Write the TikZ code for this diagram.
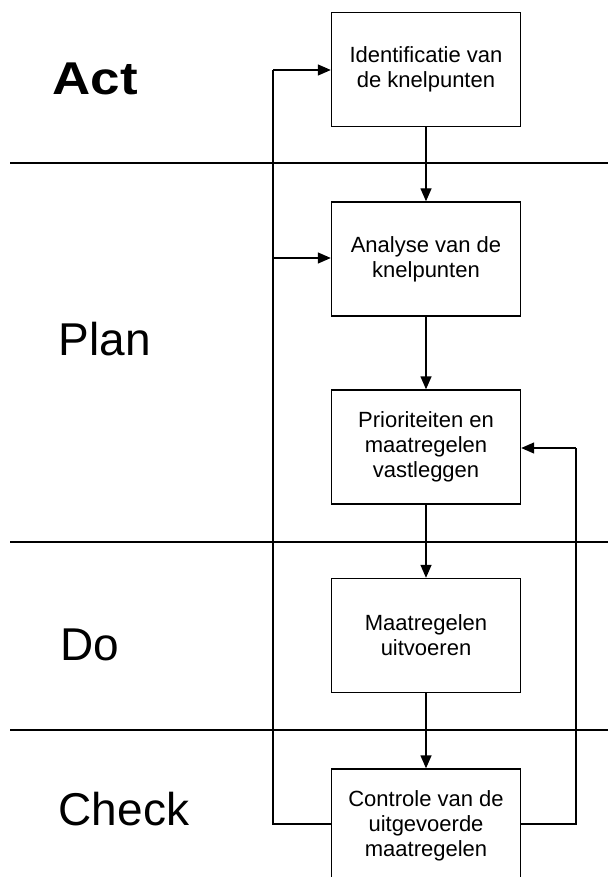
\documentclass[tikz,border=0pt]{standalone}
\usepackage{fontspec}
\setmainfont{Liberation Sans}
\usetikzlibrary{arrows.meta}
\begin{document}
\begin{tikzpicture}[x=1pt,y=-1pt,
  line width=1.4pt,
  stepbox/.style={draw, line width=1.4pt, minimum width=189pt, minimum height=114pt,
    inner sep=0pt, align=center, font=\fontsize{22}{25}\selectfont},
  phase/.style={anchor=base west, inner sep=0pt, font=\fontsize{46}{50}\selectfont},
  flow/.style={-{Triangle[length=13pt,width=11pt]}, line width=1.4pt}]
\useasboundingbox (0,0) rectangle (608,877);
\clip (0,0) rectangle (608,877);
\fill[white] (0,0) rectangle (608,877);

% phase separators
\draw (10,163) -- (608,163);
\draw (10,542) -- (608,542);
\draw (10,730) -- (608,730);

% phase labels
\node[phase] (act) at (52,95) {\textbf{\scalebox{1.15}[1]{Act}}};
\node[phase] (plan) at (58,355) {Plan};
\node[phase] (do) at (60,660) {Do};
\node[phase] (check) at (58,825) {Check};

% boxes
\node[stepbox] (b1) at (426,69.5) {Identificatie van\\de knelpunten};
\node[stepbox] (b2) at (426,259) {Analyse van de\\knelpunten};
\node[stepbox] (b3) at (426,447) {Prioriteiten en\\maatregelen\\vastleggen};
\node[stepbox] (b4) at (426,635.5) {Maatregelen\\uitvoeren};
\node[stepbox] (b5) at (426,826) {Controle van de\\uitgevoerde\\maatregelen};

% main flow
\draw[flow] (b1) -- (b2);
\draw[flow] (b2) -- (b3);
\draw[flow] (b3) -- (b4);
\draw[flow] (b4) -- (b5);

% feedback loops
\coordinate (lb) at (273,824);
\coordinate (lt) at (273,70);
\coordinate (lm) at (273,258);
\coordinate (rb) at (576,824);
\coordinate (rt) at (576,448);
\draw (b5.west |- lb) -- (lb) -- (lt);
\draw[flow] (lt) -- (b1.west |- lt);
\draw[flow] (lm) -- (b2.west |- lm);
\draw (b5.east |- rb) -- (rb) -- (rt);
\draw[flow] (rt) -- (b3.east |- rt);
\end{tikzpicture}
\end{document}
